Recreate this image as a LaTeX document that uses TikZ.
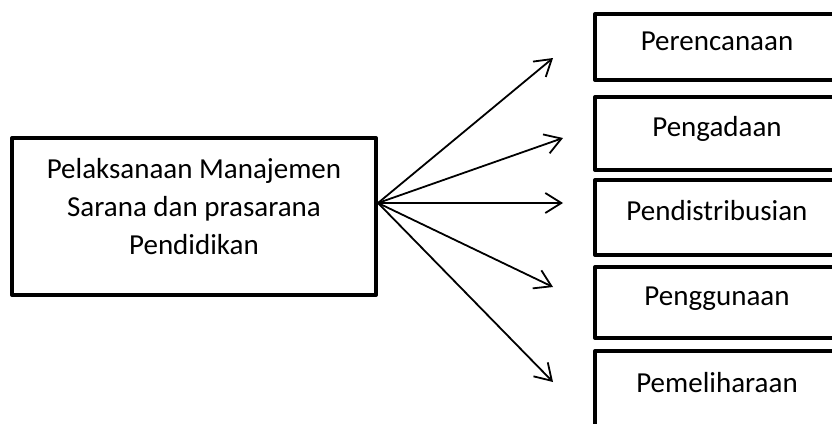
\documentclass[tikz,border=0pt]{standalone}
\usepackage{fontspec}
\setmainfont{Carlito}
\usetikzlibrary{arrows.meta}
\begin{document}
\begin{tikzpicture}[x=1pt,y=-1pt,
  box/.style={draw, line width=4pt, line join=round, rectangle, inner sep=0pt},
  lbl/.style={font=\fontsize{29}{38}\selectfont, align=center},
  rbox/.style={box, minimum width=244pt, font=\fontsize{29}{36}\selectfont, text height=19pt, text depth=13pt},
  arr/.style={line width=1.8pt, -{Straight Barb[length=16pt,width=20pt,line width=1.8pt]}}]
\useasboundingbox (0,0) rectangle (832,423);
\clip (0,0) rectangle (832,423);
\node[box, minimum width=364pt, minimum height=157pt] (main) at (194,216.5) {};
\node[lbl] (maintxt) at (194,207) {Pelaksanaan Manajemen\\Sarana dan prasarana\\Pendidikan};
\node[rbox, minimum height=66pt] (b1) at (717,47) {Perencanaan};
\node[rbox, minimum height=73pt] (b2) at (717,133.5) {Pengadaan};
\node[rbox, minimum height=75pt] (b3) at (717,217.5) {Pendistribusian};
\node[rbox, minimum height=71pt] (b4) at (717,302.5) {Penggunaan};
\node[rbox, minimum height=77pt] (b5) at (717,389.5) {Pemeliharaan};
\coordinate (src) at ([yshift=13.5pt]main.east);
\coordinate (t1) at (553,58);
\coordinate (t2) at (563,138);
\coordinate (t3) at (563,203);
\coordinate (t4) at (553,287);
\coordinate (t5) at (553,382);
\foreach \t in {t1,t2,t3,t4,t5} \draw[arr] (src) -- (\t);
\end{tikzpicture}
\end{document}
